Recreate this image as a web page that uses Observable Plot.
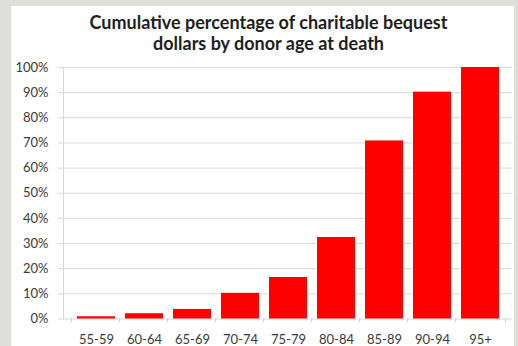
<!DOCTYPE html>
<html>
<head>
<meta charset="utf-8">
<script src="https://cdn.jsdelivr.net/npm/d3@7"></script>
<script src="https://cdn.jsdelivr.net/npm/@observablehq/plot@0.6"></script>
<style>
  html, body { margin: 0; padding: 0; }
  body { width: 518px; height: 346px; background: #dedfd9; position: relative; overflow: hidden; font-family: Lato, "Open Sans", sans-serif; }
  #panel { position: absolute; left: 11px; top: 6px; width: 503px; height: 340px; background: #ffffff; }
  #title { position: absolute; left: 0; top: 12px; width: 537px; text-align: center; font-weight: bold; font-size: 18px; line-height: 21px; color: #1e1e1e; }
  #chart { position: absolute; left: 0; top: 55px; }
</style>
</head>
<body>
<div id="panel"></div>
<div id="title">Cumulative percentage of charitable bequest<br>dollars by donor age at death</div>
<div id="chart"></div>
<script>
const ageGroups = ["55-59", "60-64", "65-69", "70-74", "75-79", "80-84", "85-89", "90-94", "95+"];
const cumulativePct = [0.9, 2.1, 3.8, 10.2, 16.5, 32.4, 70.8, 90.2, 100];
const yTicks = [0, 10, 20, 30, 40, 50, 60, 70, 80, 90, 100];

const data = ageGroups.map((g, i) => ({group: g, pct: cumulativePct[i]}));

const chart = Plot.plot({
  width: 518,
  height: 291,
  marginLeft: 63,
  marginRight: 5.5,
  marginTop: 12,
  marginBottom: 27.5,
  style: {background: "transparent", fontFamily: "Lato, 'Open Sans', sans-serif", fontSize: "12.5px", color: "#3a3a3a"},
  x: {domain: ageGroups, padding: 0.2, label: null},
  y: {domain: [0, 100], label: null},
  marks: [
    Plot.ruleY(yTicks, {y: d => d, stroke: "#d9d9d9", strokeWidth: 1, insetLeft: -5}),
    Plot.frame({anchor: "left", stroke: "#d9d9d9"}),
    Plot.barY(data, {x: "group", y: "pct", fill: "#ff0000"}),
    Plot.ruleX(ageGroups, {x: d => d, dx: -25, y1: 0, y2: 0, insetBottom: -4, stroke: "#d0d0d0"}),
    Plot.ruleX(ageGroups.slice(-1), {x: d => d, dx: 25, y1: 0, y2: 0, insetBottom: -4, stroke: "#d0d0d0"}),
    Plot.axisY(yTicks, {tickSize: 0, tickPadding: 15, tickFormat: d => d + "%", fill: "#3a3a3a", fontSize: 13}),
    Plot.axisX({tickSize: 0, tickPadding: 16, fill: "#3a3a3a", fontSize: 13})
  ]
});
document.getElementById("chart").appendChild(chart);
</script>
</body>
</html>
